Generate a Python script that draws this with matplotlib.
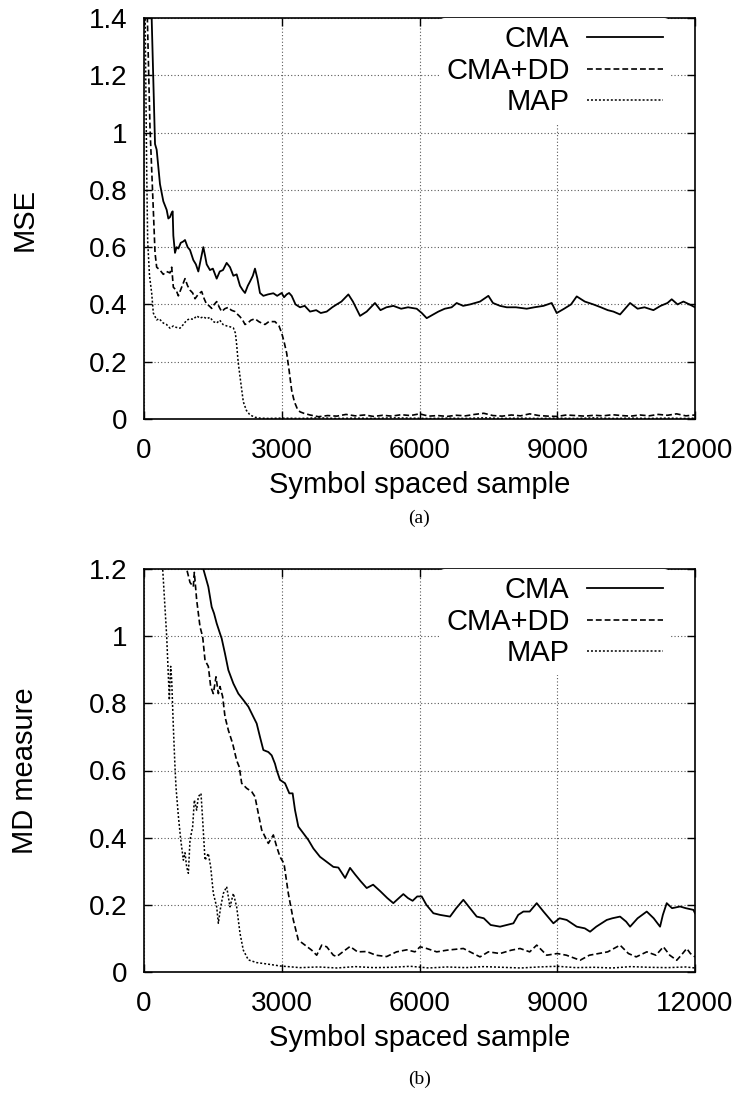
import matplotlib
matplotlib.use("Agg")
import matplotlib.pyplot as plt
from matplotlib.ticker import FuncFormatter

plt.rcParams['font.family'] = ['Liberation Sans', 'DejaVu Sans']

# ---------------- data: (a) MSE ----------------
mse_cma_x = [0, 110, 167, 240, 276, 348, 421, 494, 530, 566, 603, 624, 639, 675, 710, 748, 800, 857, 893, 950,
             1002, 1074, 1130, 1183, 1240, 1292, 1330, 1365, 1437, 1500, 1583, 1650, 1720, 1800, 1873, 1946, 2018,
             2091, 2150, 2200, 2260, 2309, 2370, 2417, 2470, 2526, 2599, 2700, 2817, 2900, 2999, 3050, 3107, 3160,
             3216, 3300, 3398, 3500, 3616, 3750, 3850, 3979, 4100, 4197, 4300, 4451, 4550, 4705, 4850, 5030, 5150,
             5280, 5430, 5600, 5750, 5939, 6050, 6157, 6300, 6411, 6550, 6700, 6810, 6950, 7100, 7318, 7500, 7600,
             7754, 7900, 8100, 8335, 8500, 8700, 8879, 8988, 9150, 9300, 9424, 9600, 9787, 9950, 10100, 10223,
             10368, 10586, 10750, 10900, 11094, 11250, 11400, 11493, 11620, 11748, 11880, 12000]
mse_cma_y = [2.00, 1.62, 1.40, 0.96, 0.94, 0.82, 0.76, 0.73, 0.70, 0.705, 0.72, 0.725, 0.64, 0.58, 0.60, 0.595,
             0.615, 0.62, 0.625, 0.60, 0.59, 0.555, 0.54, 0.515, 0.56, 0.60, 0.57, 0.54, 0.52, 0.525, 0.49, 0.515,
             0.52, 0.545, 0.53, 0.50, 0.505, 0.465, 0.45, 0.44, 0.465, 0.48, 0.50, 0.525, 0.49, 0.44, 0.43, 0.435,
             0.439, 0.43, 0.44, 0.425, 0.435, 0.44, 0.43, 0.40, 0.39, 0.395, 0.375, 0.38, 0.37, 0.375, 0.39, 0.40,
             0.41, 0.435, 0.41, 0.36, 0.375, 0.405, 0.38, 0.39, 0.395, 0.385, 0.39, 0.385, 0.37, 0.352, 0.365,
             0.375, 0.385, 0.39, 0.405, 0.395, 0.40, 0.41, 0.43, 0.405, 0.395, 0.39, 0.39, 0.385, 0.39, 0.395,
             0.405, 0.37, 0.385, 0.40, 0.428, 0.41, 0.40, 0.39, 0.38, 0.375, 0.365, 0.405, 0.385, 0.39, 0.38,
             0.395, 0.405, 0.418, 0.40, 0.41, 0.40, 0.39]

mse_dd_x = [0, 73, 130, 203, 240, 276, 348, 420, 490, 566, 603, 639, 700, 748, 820, 893, 950, 1002, 1060, 1111,
            1180, 1256, 1310, 1365, 1420, 1474, 1530, 1583, 1640, 1692, 1760, 1837, 1900, 1982, 2040, 2091, 2150,
            2200, 2260, 2330, 2417, 2500, 2560, 2635, 2720, 2853, 2940, 2999, 3050, 3107, 3160, 3216, 3260, 3289,
            3340, 3398, 3480, 3616, 3800, 4000, 4200, 4400, 4600, 4800, 5000, 5200, 5400, 5600, 5800, 6000, 6200,
            6400, 6600, 6800, 7000, 7200, 7400, 7600, 7800, 8000, 8200, 8400, 8600, 8800, 9000, 9200, 9400, 9600,
            9800, 10000, 10200, 10400, 10600, 10800, 11000, 11200, 11400, 11600, 11800, 12000]
mse_dd_y = [2.00, 1.40, 1.02, 0.73, 0.58, 0.53, 0.52, 0.505, 0.515, 0.51, 0.53, 0.46, 0.45, 0.43, 0.46, 0.49,
            0.465, 0.45, 0.44, 0.42, 0.435, 0.445, 0.42, 0.40, 0.395, 0.386, 0.40, 0.41, 0.39, 0.375, 0.385, 0.39,
            0.38, 0.375, 0.365, 0.357, 0.345, 0.33, 0.335, 0.345, 0.35, 0.34, 0.335, 0.33, 0.34, 0.34, 0.325,
            0.30, 0.27, 0.23, 0.17, 0.10, 0.07, 0.055, 0.035, 0.025, 0.02, 0.014, 0.008, 0.012, 0.010, 0.016,
            0.011, 0.014, 0.009, 0.013, 0.010, 0.015, 0.012, 0.018, 0.010, 0.012, 0.009, 0.013, 0.011, 0.016,
            0.020, 0.012, 0.010, 0.014, 0.011, 0.018, 0.012, 0.010, 0.009, 0.014, 0.012, 0.010, 0.013, 0.011,
            0.015, 0.012, 0.010, 0.014, 0.011, 0.016, 0.013, 0.018, 0.011, 0.014]

mse_map_x = [0, 25, 60, 80, 120, 167, 203, 276, 330, 420, 490, 566, 640, 700, 784, 857, 930, 1002, 1074, 1150,
             1220, 1292, 1365, 1437, 1510, 1583, 1650, 1720, 1800, 1873, 1946, 1990, 2018, 2050, 2091, 2130, 2163,
             2230, 2309, 2420, 2526, 2700, 3000, 3400, 3800, 4200, 4600, 5000, 5400, 5800, 6200, 6600, 7000, 7400,
             7800, 8200, 8600, 9000, 9400, 9800, 10200, 10600, 11000, 11400, 11800, 12000]
mse_map_y = [1.60, 1.40, 0.85, 0.62, 0.50, 0.44, 0.37, 0.346, 0.35, 0.335, 0.33, 0.317, 0.325, 0.32, 0.317, 0.33,
             0.345, 0.35, 0.348, 0.36, 0.352, 0.357, 0.35, 0.355, 0.34, 0.335, 0.345, 0.33, 0.325, 0.322, 0.318,
             0.30, 0.26, 0.20, 0.148, 0.10, 0.06, 0.03, 0.014, 0.006, 0.003, 0.002, 0.003, 0.002, 0.004, 0.002,
             0.003, 0.002, 0.004, 0.003, 0.002, 0.003, 0.002, 0.004, 0.002, 0.003, 0.002, 0.003, 0.002, 0.004,
             0.002, 0.003, 0.002, 0.003, 0.002, 0.003]

# ---------------- data: (b) MD measure ----------------
md_cma_x = [0, 1000, 1292, 1401, 1474, 1525, 1583, 1655, 1692, 1764, 1837, 1946, 2054, 2163, 2273, 2381, 2454,
            2526, 2599, 2708, 2781, 2853, 2890, 2962, 3071, 3165, 3237, 3289, 3361, 3471, 3580, 3688, 3833, 3979,
            4124, 4233, 4380, 4487, 4600, 4720, 4850, 4990, 5150, 5300, 5430, 5550, 5648, 5750, 5850, 5950, 6048,
            6150, 6302, 6450, 6665, 6800, 6955, 7100, 7246, 7400, 7550, 7754, 7900, 8045, 8150, 8262, 8400, 8553,
            8700, 8916, 9050, 9206, 9424, 9600, 9715, 9850, 10078, 10200, 10368, 10500, 10586, 10750, 10949,
            11100, 11239, 11300, 11384, 11500, 11675, 11800, 11965, 12000]
md_cma_y = [2.00, 1.38, 1.20, 1.147, 1.087, 1.068, 1.038, 1.008, 0.993, 0.948, 0.899, 0.859, 0.829, 0.81, 0.79,
            0.76, 0.74, 0.70, 0.661, 0.655, 0.645, 0.62, 0.601, 0.572, 0.562, 0.532, 0.532, 0.482, 0.433, 0.413,
            0.393, 0.368, 0.343, 0.328, 0.313, 0.311, 0.28, 0.31, 0.29, 0.27, 0.25, 0.26, 0.24, 0.22, 0.205, 0.22,
            0.232, 0.22, 0.212, 0.225, 0.225, 0.20, 0.175, 0.17, 0.165, 0.19, 0.215, 0.19, 0.165, 0.16, 0.14,
            0.135, 0.14, 0.145, 0.17, 0.18, 0.18, 0.205, 0.18, 0.145, 0.16, 0.155, 0.135, 0.13, 0.12, 0.135, 0.155,
            0.16, 0.165, 0.15, 0.135, 0.16, 0.18, 0.16, 0.135, 0.17, 0.205, 0.19, 0.195, 0.19, 0.185, 0.175]

md_dd_x = [0, 600, 929, 1002, 1074, 1096, 1147, 1220, 1278, 1329, 1401, 1452, 1510, 1568, 1619, 1655, 1713, 1764,
           1837, 1931, 2018, 2076, 2127, 2236, 2345, 2417, 2490, 2563, 2635, 2708, 2817, 2890, 2962, 3049, 3143,
           3252, 3361, 3507, 3652, 3761, 3870, 3979, 4124, 4197, 4330, 4487, 4650, 4850, 5050, 5285, 5500, 5721,
           5900, 6012, 6157, 6375, 6600, 6955, 7100, 7318, 7500, 7754, 8000, 8190, 8400, 8553, 8771, 9000, 9200,
           9497, 9700, 9900, 10100, 10368, 10550, 10720, 10950, 11150, 11311, 11450, 11602, 11700, 11820, 11900,
           12000]
md_dd_y = [2.00, 1.50, 1.20, 1.16, 1.147, 1.19, 1.108, 1.028, 0.998, 0.928, 0.91, 0.85, 0.829, 0.879, 0.829, 0.85,
           0.82, 0.76, 0.72, 0.68, 0.63, 0.61, 0.562, 0.547, 0.537, 0.522, 0.472, 0.423, 0.403, 0.383, 0.408,
           0.373, 0.343, 0.323, 0.234, 0.155, 0.095, 0.080, 0.065, 0.05, 0.08, 0.075, 0.05, 0.046, 0.06, 0.076,
           0.06, 0.061, 0.05, 0.046, 0.06, 0.066, 0.06, 0.075, 0.07, 0.06, 0.065, 0.07, 0.06, 0.045, 0.06, 0.055,
           0.065, 0.07, 0.06, 0.08, 0.05, 0.055, 0.05, 0.035, 0.05, 0.055, 0.06, 0.08, 0.055, 0.045, 0.06, 0.05,
           0.075, 0.05, 0.035, 0.05, 0.07, 0.055, 0.045]

md_map_x = [0, 300, 407, 494, 552, 581, 603, 639, 675, 697, 748, 799, 857, 893, 929, 966, 1002, 1060, 1096, 1147,
            1183, 1241, 1278, 1329, 1401, 1452, 1510, 1583, 1619, 1670, 1728, 1800, 1873, 1946, 2018, 2091, 2163,
            2273, 2454, 2672, 2962, 3398, 3800, 4200, 4600, 5000, 5400, 5800, 6200, 6600, 7000, 7400, 7800, 8200,
            8600, 9000, 9400, 9800, 10200, 10600, 11000, 11400, 11800, 12000]
md_map_y = [2.00, 1.45, 1.20, 1.00, 0.81, 0.91, 0.87, 0.73, 0.61, 0.55, 0.465, 0.395, 0.333, 0.355, 0.313, 0.294,
            0.393, 0.433, 0.512, 0.482, 0.522, 0.532, 0.452, 0.333, 0.353, 0.313, 0.234, 0.194, 0.145, 0.194,
            0.234, 0.254, 0.194, 0.234, 0.194, 0.115, 0.065, 0.036, 0.028, 0.024, 0.018, 0.013, 0.015, 0.012,
            0.016, 0.013, 0.014, 0.017, 0.012, 0.015, 0.013, 0.016, 0.014, 0.012, 0.015, 0.017, 0.013, 0.014,
            0.012, 0.016, 0.014, 0.013, 0.015, 0.012]

series_names = ["CMA", "CMA+DD", "MAP"]
x_ticks = [0, 3000, 6000, 9000, 12000]
mse_ticks = [0, 0.2, 0.4, 0.6, 0.8, 1.0, 1.2, 1.4]
md_ticks = [0, 0.2, 0.4, 0.6, 0.8, 1.0, 1.2]

# ---------------- figure ----------------
W, H = 742, 1093
fig = plt.figure(figsize=(W / 100, H / 100), dpi=100)

styles = [dict(ls='-', lw=1.3), dict(ls=(0, (3.5, 1.8)), lw=1.2), dict(ls=(0, (1.3, 1.3)), lw=1.1)]

def make_axes(rect, data, ymax, yticks, ylabel, ylab_y):
    ax = fig.add_axes(rect)
    for (xs, ys), name, st in zip(data, series_names, styles):
        ax.plot(xs, ys, color='black', label=name, **st)
    ax.set_xlim(0, 12000)
    ax.set_ylim(0, ymax)
    ax.set_xticks(x_ticks)
    ax.set_yticks(yticks)
    ax.yaxis.set_major_formatter(FuncFormatter(lambda v, p: '%g' % round(v, 2)))
    ax.tick_params(direction='in', length=6, width=1.0, top=True, right=True, labelsize=20)
    ax.tick_params(axis='y', pad=12)
    ax.tick_params(axis='x', pad=14)
    ax.grid(True, color='0.35', linestyle=(0, (1, 2)), linewidth=0.8)
    for s in ax.spines.values():
        s.set_linewidth(1.2)
    ax.set_xlabel("Symbol spaced sample", fontsize=21, labelpad=5)
    fig.text(25 / W, 1 - ylab_y / H, ylabel, rotation=90, ha='center', va='center', fontsize=21)
    leg = ax.legend(loc='upper right', bbox_to_anchor=(0.955, 1.0), markerfirst=False, frameon=True,
                    fontsize=21, handlelength=2.6, handletextpad=0.6, labelspacing=0.12,
                    borderpad=0.25, borderaxespad=0.0)
    leg.get_frame().set_facecolor('white')
    leg.get_frame().set_edgecolor('none')
    leg.get_frame().set_alpha(1.0)
    for t in leg.get_texts():
        t.set_ha('right')
    return ax

ax1 = make_axes([144 / W, 1 - 419 / H, 551 / W, 401 / H],
                [(mse_cma_x, mse_cma_y), (mse_dd_x, mse_dd_y), (mse_map_x, mse_map_y)],
                1.4, mse_ticks, "MSE", 219)
ax2 = make_axes([144 / W, 1 - 972 / H, 551 / W, 403 / H],
                [(md_cma_x, md_cma_y), (md_dd_x, md_dd_y), (md_map_x, md_map_y)],
                1.2, md_ticks, "MD measure", 771)

fig.text(419.5 / W, 1 - 518 / H, "(a)", ha='center', va='center', fontsize=14, family='Liberation Serif')
fig.text(419.5 / W, 1 - 1079 / H, "(b)", ha='center', va='center', fontsize=14, family='Liberation Serif')

fig.savefig("out.png", dpi=100)
